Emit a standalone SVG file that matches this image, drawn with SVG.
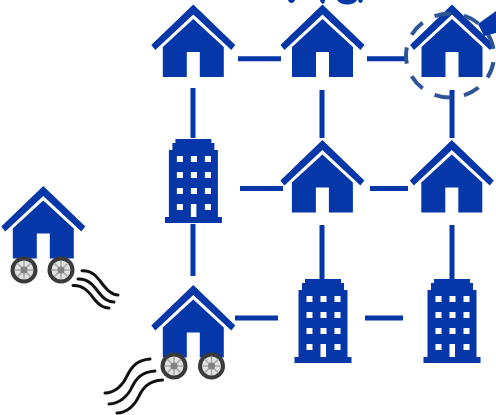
<svg xmlns="http://www.w3.org/2000/svg" width="496" height="415" viewBox="0 0 496 415">
<defs>
<style>
.b{fill:#0537a8}
.c{stroke:#0537a8;stroke-width:5;fill:none}
.w{fill:none;stroke:#111;stroke-width:3;stroke-linecap:round}
</style>
<g id="house">
<path class="b" d="M-42 45L0 4.500L42 45L38 50L0 14.500L-38 50Z"/>
<path class="b" d="M0 19L30.500 47V77H6.500V52H-6.500V77H-30.500V47Z"/>
</g>
<g id="tower">
<path class="b" d="M-18 8H18V12H21V19H24.500V86H28.500V92H-28.500V86H-24.500V19H-21V12H-18Z"/>
<g fill="#fff"><rect x="-16.500" y="25" width="6" height="6"/><rect x="-2.500" y="25" width="6" height="6"/><rect x="11.500" y="25" width="6" height="6"/><rect x="-16.500" y="41" width="6" height="6"/><rect x="-2.500" y="41" width="6" height="6"/><rect x="11.500" y="41" width="6" height="6"/><rect x="-16.500" y="57" width="6" height="6"/><rect x="-2.500" y="57" width="6" height="6"/><rect x="11.500" y="57" width="6" height="6"/><rect x="-16.500" y="73" width="6" height="6"/><rect x="-2.500" y="73" width="5.500" height="13"/><rect x="11.500" y="73" width="6" height="6"/></g>
</g>
<g id="wheel">
<circle r="13.500" fill="#3a3a3a"/><circle r="9.500" fill="#e2e2e2"/>
<path d="M0-9V9M-9 0H9M-6.400-6.400L6.400 6.400M-6.400 6.400L6.400-6.400" stroke="#a8a8a8" stroke-width="1.500"/>
<circle r="3.500" fill="#808080"/>
</g>
</defs>
<rect width="496" height="415" fill="#fff"/>
<g id="connectors">
<path class="c" d="M238 58.800H281M367 58.800H405M193 88V138M322 90V138M452 90V138M240 188.500H283M370 188.500H408M193 224V276M322 225V279M452 225V279M235 318H278M365 318H403"/>
</g>
<g id="n1"><use href="#house" x="193.300"/></g>
<g id="n2"><use href="#house" x="322.500"/></g>
<g id="n3"><use href="#house" x="452"/></g>
<g id="n4"><use href="#tower" x="193.400" y="131"/></g>
<g id="n5"><use href="#house" x="322.400" y="135.500"/></g>
<g id="n6"><use href="#house" x="451.800" y="135.500"/></g>
<g id="n7"><use href="#house" x="193.300" y="280.500"/><use href="#wheel" x="174" y="366"/><use href="#wheel" x="211.500" y="366"/></g>
<g id="n8"><use href="#tower" x="323" y="271"/></g>
<g id="n9"><use href="#tower" x="452" y="271"/></g>
<g id="n10"><use href="#house" x="43.300" y="181.500"/><use href="#wheel" x="24" y="270"/><use href="#wheel" x="61" y="270"/></g>
<g id="ripples">
<path class="w" d="M82 270.700C94 270 99 280 104 286C108 291 112 295 118 295M78 279C90 278.500 95 288 100 294C104 299 108 302 114 302M73 285.500C85 285 90 294 95 300C99 305 103 308 109 308"/>
<path class="w" d="M150 359C136 360 131 368 127 376C123 385 115 393 105 393M155 371C141 372 136 379 132 387C128 396 119 404 109 404M162.500 380C148 381 143 388 139 396C135 405 127 413 117 413"/>
</g>
<g id="marker">
<ellipse cx="450" cy="55.500" rx="44" ry="42" fill="none" stroke="#2f5597" stroke-width="4" pathLength="360" stroke-dasharray="22 18" stroke-dashoffset="-9"/>
<path class="b" d="M478 24L496 11V33L484 36Z"/>
<path class="b" d="M288 0H295C294 4 289 4 288 0ZM320 0H325C325 5 321 5 320 0ZM337 0H357C354 6 341 6 337 0ZM358 0H363C362 4 359 4 358 0Z"/>
</g>
</svg>
